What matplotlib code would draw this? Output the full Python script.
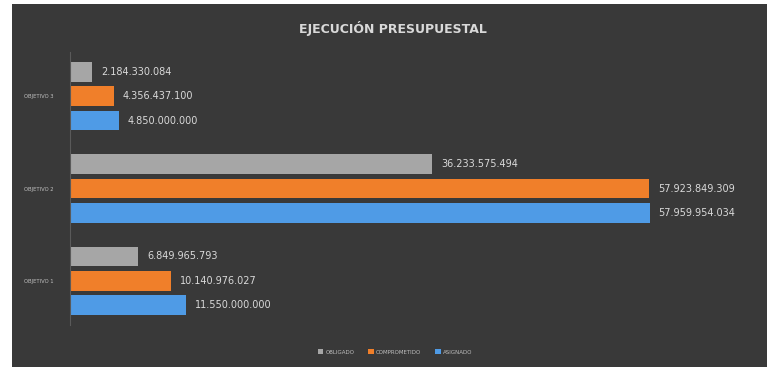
import numpy as np
import matplotlib.pyplot as plt
from matplotlib.patches import Rectangle

categorias = ['OBJETIVO 1', 'OBJETIVO 2', 'OBJETIVO 3']
obligado = [6849965793, 36233575494, 2184330084]
comprometido = [10140976027, 57923849309, 4356437100]
asignado = [11550000000, 57959954034, 4850000000]

series = [('ASIGNADO', asignado, '#4f9be6'),
          ('COMPROMETIDO', comprometido, '#f07f2a'),
          ('OBLIGADO', obligado, '#a6a6a6')]

def fmt(v):
    return '{:,}'.format(v).replace(',', '.')

fig = plt.figure(figsize=(7.67, 3.69), dpi=100)
fig.patch.set_facecolor('white')
fig.patches.append(Rectangle((12 / 767, 0.005), 1 - 12 / 767, 0.985,
                             transform=fig.transFigure, facecolor='#393939',
                             edgecolor='none', zorder=-10))

ax = fig.add_axes([70 / 767, 1 - 325 / 369, 670 / 767, 273 / 369])
ax.set_facecolor('none')
ax.set_zorder(5)

y = np.arange(len(categorias))
slot = 0.263
h = 0.215
for i, (nombre, vals, color) in enumerate(series):
    pos = y + (i - 1) * slot
    ax.barh(pos, vals, height=h, color=color, label=nombre, zorder=2)
    for p, v in zip(pos, vals):
        ax.text(v + 0.9e9, p, fmt(v), va='center', ha='left',
                fontsize=7, color='#d9d9d9')

ax.set_xlim(0, 67e9)
ax.set_ylim(-0.48, 2.48)
ax.set_yticks(y)
ax.set_yticklabels(categorias, fontsize=3.8, color='#bfbfbf')
ax.tick_params(axis='y', length=0, pad=12)
ax.set_xticks([])
for s in ['top', 'right', 'bottom']:
    ax.spines[s].set_visible(False)
ax.spines['left'].set_color('#5a5a5a')
ax.spines['left'].set_linewidth(0.8)

fig.text(0.512, 1 - 28 / 369, 'EJECUCIÓN PRESUPUESTAL', ha='center', va='center',
         fontsize=9, fontweight='bold', color='#d9d9d9', zorder=6)

handles, labels = ax.get_legend_handles_labels()
leg = fig.legend(handles[::-1], labels[::-1], loc='center',
                 bbox_to_anchor=(0.515, 1 - 352 / 369), ncol=3, frameon=False,
                 fontsize=4, labelcolor='#bfbfbf', handlelength=1.0,
                 handleheight=1.0, columnspacing=2.5, handletextpad=0.4)
leg.set_zorder(6)

fig.savefig('out.png', dpi=100)
